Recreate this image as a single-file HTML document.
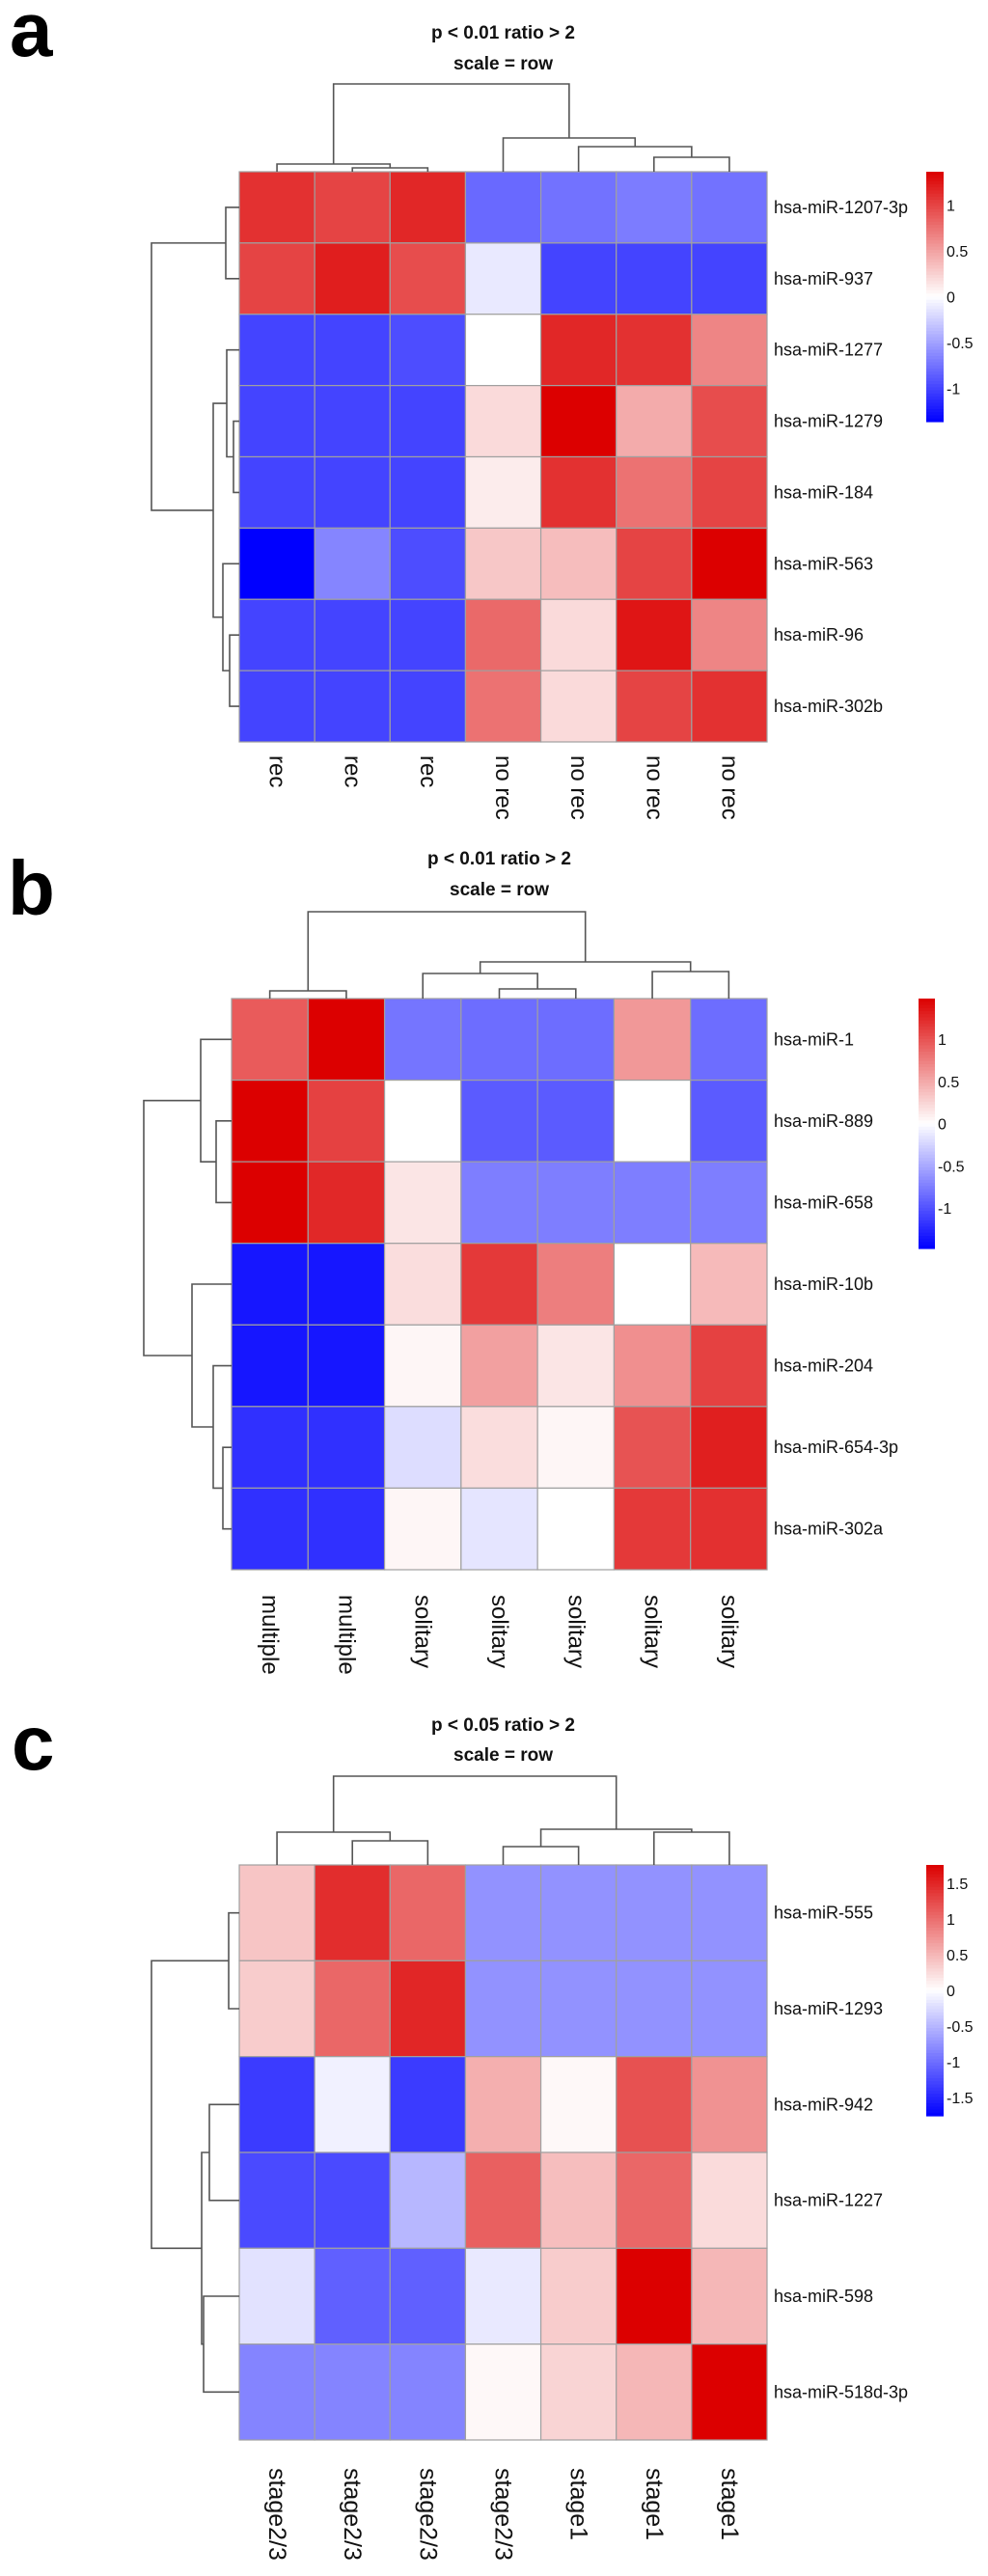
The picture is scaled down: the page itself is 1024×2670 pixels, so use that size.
<!DOCTYPE html>
<html><head><meta charset="utf-8">
<style>
html,body{margin:0;padding:0;background:#fff;}
svg{display:block;font-family:"Liberation Sans",Arial,sans-serif;}
</style></head>
<body>
<svg id="fig" width="1024" height="2670" viewBox="0 0 1024 2670" xmlns="http://www.w3.org/2000/svg"></svg>
<script>
// ---------- Panel a data ----------
const aCols = ["rec","rec","rec","no rec","no rec","no rec","no rec"];
const aRows = ["hsa-miR-1207-3p","hsa-miR-937","hsa-miR-1277","hsa-miR-1279","hsa-miR-184","hsa-miR-563","hsa-miR-96","hsa-miR-302b"];
const aVals = [
 [1.1,1.0,1.15,-0.8,-0.75,-0.7,-0.75],
 [1.0,1.2,0.95,-0.12,-1.0,-1.0,-1.0],
 [-1.0,-1.0,-0.95,0.0,1.15,1.1,0.65],
 [-1.0,-1.0,-1.0,0.2,1.36,0.45,0.95],
 [-1.0,-1.0,-1.0,0.1,1.1,0.75,1.0],
 [-1.36,-0.65,-0.95,0.3,0.35,1.0,1.36],
 [-1.0,-1.0,-1.0,0.8,0.2,1.25,0.65],
 [-1.0,-1.0,-1.0,0.75,0.2,1.0,1.1]
];
const aTicks = [1,0.5,0,-0.5,-1];
const aTickLabels = ["1","0.5","0","-0.5","-1"];
const aColTree = [[1,2,4],[0,"m0",8],[5,6,15],[4,"m2",26],[3,"m3",35],["m1","m4",91]];
const aRowTree = [[0,1,14],[3,4,6],[2,"m1",13],[6,7,10],[5,"m3",17],["m2","m4",27],["m0","m5",91]];

// ---------- Panel b data ----------
const bCols = ["multiple","multiple","solitary","solitary","solitary","solitary","solitary"];
const bRows = ["hsa-miR-1","hsa-miR-889","hsa-miR-658","hsa-miR-10b","hsa-miR-204","hsa-miR-654-3p","hsa-miR-302a"];
const bVals = [
 [0.95,1.48,-0.8,-0.85,-0.85,0.6,-0.85],
 [1.48,1.1,0.0,-0.95,-0.95,0.0,-0.95],
 [1.48,1.25,0.15,-0.75,-0.75,-0.75,-0.75],
 [-1.35,-1.35,0.2,1.15,0.75,0.0,0.4],
 [-1.35,-1.35,0.05,0.55,0.15,0.65,1.1],
 [-1.2,-1.2,-0.2,0.2,0.05,1.0,1.3],
 [-1.2,-1.2,0.05,-0.15,0.0,1.15,1.2]
];
const bTicks = [1,0.5,0,-0.5,-1];
const bTickLabels = ["1","0.5","0","-0.5","-1"];
const bColTree = [[0,1,8],[3,4,10],[2,"m1",26],[5,6,28],["m2","m3",38],["m0","m4",90]];
const bRowTree = [[1,2,16],[0,"m0",32],[5,6,9],[4,"m2",19],[3,"m3",41],["m1","m4",91]];

// ---------- Panel c data ----------
const cCols = ["stage2/3","stage2/3","stage2/3","stage2/3","stage1","stage1","stage1"];
const cRows = ["hsa-miR-555","hsa-miR-1293","hsa-miR-942","hsa-miR-1227","hsa-miR-598","hsa-miR-518d-3p"];
const cVals = [
 [0.4,1.45,1.05,-0.75,-0.75,-0.75,-0.75],
 [0.35,1.05,1.5,-0.75,-0.75,-0.75,-0.75],
 [-1.35,-0.1,-1.35,0.55,0.05,1.2,0.75],
 [-1.25,-1.25,-0.5,1.1,0.45,1.05,0.25],
 [-0.2,-1.1,-1.1,-0.15,0.35,1.76,0.5],
 [-0.85,-0.85,-0.85,0.05,0.3,0.5,1.76]
];
const cTicks = [1.5,1,0.5,0,-0.5,-1,-1.5];
const cTickLabels = ["1.5","1","0.5","0","-0.5","-1","-1.5"];
const cColTree = [[1,2,25],[0,"m0",34],[3,4,19],[5,6,34],["m2","m3",37],["m1","m4",92]];
const cRowTree = [[0,1,11],[2,3,31],[4,5,37],["m1","m2",39],["m0","m3",91]];

const NS = "http://www.w3.org/2000/svg";
const svg = document.getElementById("fig");
function mk(tag, attrs, parent){
  const e = document.createElementNS(NS, tag);
  for (const k in attrs) e.setAttribute(k, attrs[k]);
  (parent||svg).appendChild(e);
  return e;
}
function colorFor(v, lim){
  let t = Math.max(-1, Math.min(1, v/lim));
  let r,g,b;
  if (t >= 0){ r = 255 + (220-255)*t; g = 255*(1-t); b = 255*(1-t); }
  else { t = -t; r = 255*(1-t); g = 255*(1-t); b = 255; }
  return `rgb(${Math.round(r)},${Math.round(g)},${Math.round(b)})`;
}

function drawPanel(p){
  const g = mk("g", {});
  
  
  const nC = p.cols.length, nR = p.rows.length;
  const cw = (p.x1 - p.x0)/nC, rh = (p.y1 - p.y0)/nR;
  const xS = i => p.x0 + cw*(i+0.5);
  const yS = i => p.y0 + rh*(i+0.5);

  const letter = mk("text", {x:p.lx, y:p.ly, "font-size":80, "font-weight":"bold", fill:"#000"}, g);
  letter.textContent = p.id;
  
  

  const mid = (p.x0+p.x1)/2;
  const t1 = mk("text", {x:mid, y:p.t1y, "font-size":19, "font-weight":"bold", "text-anchor":"middle", fill:"#111"}, g);
  t1.textContent = p.title;
  
  
  const t2 = mk("text", {x:mid, y:p.t2y, "font-size":19, "font-weight":"bold", "text-anchor":"middle", fill:"#111"}, g);
  t2.textContent = "scale = row";
  
  

  for (let r=0;r<nR;r++){
    for (let c=0;c<nC;c++){
      const cell = mk("rect", {x:p.x0+cw*c, y:p.y0+rh*r, width:cw, height:rh, fill:colorFor(p.vals[r][c], p.lim), stroke:"#a0a0a0", "stroke-width":1.2}, g);
      
      
    }
  }
  p.rows.forEach((lab,i)=>{
    const t = mk("text", {x:p.x1+7, y:yS(i)+6, "font-size":18, fill:"#111"}, g);
    t.textContent = lab;
    
    
  });
  p.cols.forEach((lab,i)=>{
    const x = xS(i), y = p.y1 + p.clOff;
    const t = mk("text", {x:x, y:y, "font-size":p.clSize, fill:"#111", "dominant-baseline":"central", transform:`rotate(90 ${x} ${y})`}, g);
    t.textContent = lab;
    
    
  });
  function tree(merges, pos, isCol){
    const nodes = {};
    const get = k => typeof k === "number" ? {p:pos(k), h:0} : nodes[k];
    merges.forEach((m,i)=>{
      const a = get(m[0]), b = get(m[1]), h = m[2];
      let d;
      if (isCol){
        const yb = p.y0 - h;
        d = `M${a.p},${p.y0-a.h}V${yb}H${b.p}V${p.y0-b.h}`;
      } else {
        const xb = p.x0 - h;
        d = `M${p.x0-a.h},${a.p}H${xb}V${b.p}H${p.x0-b.h}`;
      }
      const path = mk("path", {d:d, fill:"none", stroke:"#555", "stroke-width":1.6}, g);
      
      
      nodes["m"+i] = {p:(a.p+b.p)/2, h:h};
    });
  }
  tree(p.colTree, xS, true);
  tree(p.rowTree, yS, false);

  const cb = p.cb;
  const steps = 80;
  const cbScale = v => cb.y0 + (p.lim - v)/(2*p.lim)*(cb.y1-cb.y0);
  for (let s=0;s<steps;s++){
    const v = p.lim - (s+0.5)*(2*p.lim)/steps;
    const yy = cb.y0 + s*(cb.y1-cb.y0)/steps;
    const rr = mk("rect", {x:cb.x, y:yy, width:cb.w, height:(cb.y1-cb.y0)/steps+0.6, fill:colorFor(v,p.lim)}, g);
    
    
  }
  p.ticks.forEach((v,i)=>{
    const t = mk("text", {x:cb.x+cb.w+3, y:cbScale(v)+6, "font-size":16, fill:"#111"}, g);
    t.textContent = p.tickLabels[i];
    
    
  });
}

drawPanel({id:"a", title:"p < 0.01 ratio > 2", cols:aCols, rows:aRows, vals:aVals, lim:1.36, ticks:aTicks, tickLabels:aTickLabels,
  colTree:aColTree, rowTree:aRowTree, x0:248, x1:795, y0:178, y1:769,
  lx:10, ly:58, t1y:40, t2y:72, clOff:14, clSize:24, cb:{x:960,w:18,y0:178,y1:437}});
drawPanel({id:"b", title:"p < 0.01 ratio > 2", cols:bCols, rows:bRows, vals:bVals, lim:1.48, ticks:bTicks, tickLabels:bTickLabels,
  colTree:bColTree, rowTree:bRowTree, x0:240, x1:795, y0:1035, y1:1627,
  lx:8, ly:948, t1y:896, t2y:928, clOff:26, clSize:24, cb:{x:952,w:17,y0:1035,y1:1294}});
drawPanel({id:"c", title:"p < 0.05 ratio > 2", cols:cCols, rows:cRows, vals:cVals, lim:1.76, ticks:cTicks, tickLabels:cTickLabels,
  colTree:cColTree, rowTree:cRowTree, x0:248, x1:795, y0:1933, y1:2529,
  lx:12, ly:1834, t1y:1794, t2y:1825, clOff:29, clSize:25, cb:{x:960,w:18,y0:1933,y1:2193}});
</script>
</body></html>
